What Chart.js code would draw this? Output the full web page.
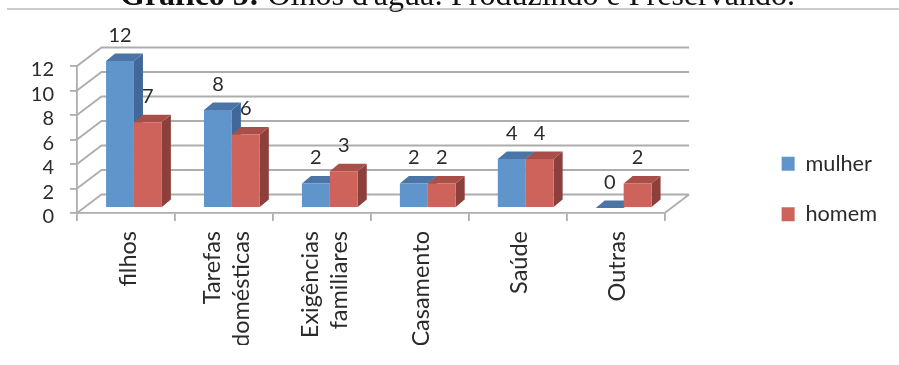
<!DOCTYPE html>
<html>
<head>
<meta charset="utf-8">
<style>
  html, body { margin: 0; padding: 0; background: #fff; overflow: hidden; }
  #wrap { position: relative; width: 899px; height: 365px; }
</style>
<script src="https://cdn.jsdelivr.net/npm/chart.js@4"></script>
</head>
<body>
<div id="wrap"><canvas id="chart"></canvas></div>
<script>
const categories = ["filhos", ["Tarefas", "domésticas"], ["Exigências", "familiares"], "Casamento", "Saúde", "Outras"];
const mulher = [12, 8, 2, 2, 4, 0];
const homem = [7, 6, 3, 2, 4, 2];
const yTicks = [0, 2, 4, 6, 8, 10, 12];
const heading = ["Gráfico 5:", " Olhos d'água: Produzindo e Preservando."];

const FONT = "Lato, Carlito, Calibri, sans-serif";
const GRID = "#adadad";
const TEXT = "#2b2b2b";
const LABEL_SIZE = 23.5;
const LABEL_LINE = 1.2;

// depth of the back wall, and how far bars sit inside the floor
const WALL_DX = 24.5, WALL_DY = -18.5;
const BAR_DX = 8, BAR_DY = -5;
const SIDE_DX = 9, SIDE_DY = -7.5;

const shades = [
  { top: "#4a75a6", side: "#41689a" },
  { top: "#a84f49", side: "#8c3f3b" },
];

function polygon(ctx, pts, color) {
  ctx.fillStyle = color;
  ctx.beginPath();
  pts.forEach((p, i) => (i ? ctx.lineTo(p[0], p[1]) : ctx.moveTo(p[0], p[1])));
  ctx.closePath();
  ctx.fill();
}

const wallPlugin = {
  id: "wall",
  beforeDraw(chart) {
    // two-line category labels get centred on their tick
    chart.scales.x.getLabelItems().forEach((item) => {
      if (!item.moved) {
        item.options.translation[0] += Array.isArray(item.label) ? -11 : 2;
        item.moved = true;
      }
    });
    // value labels hang a little below their tick marks
    chart.scales.y.getLabelItems().forEach((item) => {
      if (!item.moved) {
        item.options.translation[1] += 4;
        item.moved = true;
      }
    });
  },
  beforeDatasetsDraw(chart) {
    const { ctx, scales: { x, y } } = chart;
    ctx.save();
    ctx.strokeStyle = GRID;
    ctx.lineWidth = 1.8;
    ctx.beginPath();
    yTicks.forEach((v) => {
      const py = y.getPixelForValue(v);
      ctx.moveTo(x.left, py);
      ctx.lineTo(x.left + WALL_DX, py + WALL_DY);
      ctx.lineTo(x.right + WALL_DX, py + WALL_DY);
    });
    // floor edge on the right
    const py0 = y.getPixelForValue(0);
    ctx.moveTo(x.right, py0);
    ctx.lineTo(x.right + WALL_DX, py0 + WALL_DY);
    ctx.stroke();
    ctx.restore();
  },
};

const bar3dPlugin = {
  id: "bar3d",
  beforeDatasetsDraw(chart) {
    // sides and tops go down first, mulher then homem, fronts land on top
    const { ctx } = chart;
    ctx.save();
    ctx.translate(BAR_DX, BAR_DY);
    shades.forEach((shade, i) => {
      chart.getDatasetMeta(i).data.forEach((bar) => {
        const l = bar.x - bar.width / 2, r = bar.x + bar.width / 2;
        polygon(ctx, [[r, bar.base], [r + SIDE_DX, bar.base + SIDE_DY], [r + SIDE_DX, bar.y + SIDE_DY], [r, bar.y]], shade.side);
        polygon(ctx, [[l, bar.y], [l + SIDE_DX, bar.y + SIDE_DY], [r + SIDE_DX, bar.y + SIDE_DY], [r, bar.y]], shade.top);
      });
    });
    ctx.restore();
  },
  beforeDatasetDraw(chart) {
    chart.ctx.save();
    chart.ctx.translate(BAR_DX, BAR_DY);
  },
  afterDatasetDraw(chart) {
    chart.ctx.restore();
  },
  afterDatasetsDraw(chart) {
    const { ctx } = chart;
    ctx.save();
    ctx.font = "20px " + FONT;
    ctx.fillStyle = TEXT;
    ctx.textAlign = "center";
    ctx.textBaseline = "middle";
    chart.data.datasets.forEach((ds, i) => {
      chart.getDatasetMeta(i).data.forEach((bar, j) => {
        ctx.fillText(ds.data[j], bar.x + BAR_DX, bar.y + BAR_DY - 25.5);
      });
    });
    ctx.restore();
  },
};

const headingPlugin = {
  id: "heading",
  afterDraw(chart) {
    const { ctx } = chart;
    ctx.save();
    ctx.textBaseline = "alphabetic";
    ctx.fillStyle = "#111";
    ctx.font = "bold 32px 'Liberation Serif', serif";
    const w0 = ctx.measureText(heading[0]).width;
    ctx.fillText(heading[0], 120, 5);
    ctx.font = "32px 'Liberation Serif', serif";
    ctx.fillText(heading[1], 120 + w0, 5);
    ctx.strokeStyle = "#999";
    ctx.lineWidth = 1.2;
    ctx.beginPath();
    ctx.moveTo(7, 9);
    ctx.lineTo(899, 9);
    ctx.stroke();
    ctx.restore();
  },
};

new Chart(document.getElementById("chart"), {
  type: "bar",
  data: {
    labels: categories,
    datasets: [
      { label: "mulher", data: mulher, backgroundColor: "#6095cb", clip: false },
      { label: "homem", data: homem, backgroundColor: "#cd635a", clip: false },
    ],
  },
  options: {
    responsive: true,
    maintainAspectRatio: false,
    animation: false,
    events: [],
    layout: { padding: { left: 0, right: 12, top: 33, bottom: 20 } },
    datasets: { bar: { barPercentage: 1, categoryPercentage: 0.57 } },
    scales: {
      x: {
        grid: { drawOnChartArea: false, color: GRID, lineWidth: 1.8, tickLength: 8 },
        border: { color: GRID, width: 1.8 },
        ticks: {
          color: TEXT,
          autoSkip: false,
          minRotation: 90,
          maxRotation: 90,
          padding: 10,
          font: { family: FONT, size: LABEL_SIZE, lineHeight: LABEL_LINE },
        },
        afterFit(scale) { scale.height = 132; },
      },
      y: {
        min: 0,
        max: 12,
        grid: { drawOnChartArea: false, color: GRID, lineWidth: 1.8, tickLength: 7 },
        border: { color: GRID, width: 1.8 },
        ticks: {
          stepSize: 2,
          autoSkip: false,
          color: TEXT,
          padding: 16,
          font: { family: FONT, size: 20 },
        },
        afterFit(scale) { scale.width = 77; },
      },
      // spacers: room above the plot, and between the plot and the legend
      headroom: {
        axis: "x",
        position: "top",
        grid: { display: false },
        border: { display: false },
        ticks: { display: false },
        afterFit(scale) { scale.height = 33; },
      },
      gutter: {
        axis: "y",
        position: "right",
        grid: { display: false },
        border: { display: false },
        ticks: { display: false },
        afterFit(scale) { scale.width = 88; },
      },
    },
    plugins: {
      title: { display: false },
      tooltip: { enabled: false },
      legend: {
        position: "right",
        labels: {
          boxWidth: 13,
          boxHeight: 14,
          padding: 29,
          color: TEXT,
          font: { family: FONT, size: 21.7 },
        },
      },
    },
  },
  plugins: [wallPlugin, bar3dPlugin, headingPlugin],
});
</script>
</body>
</html>
